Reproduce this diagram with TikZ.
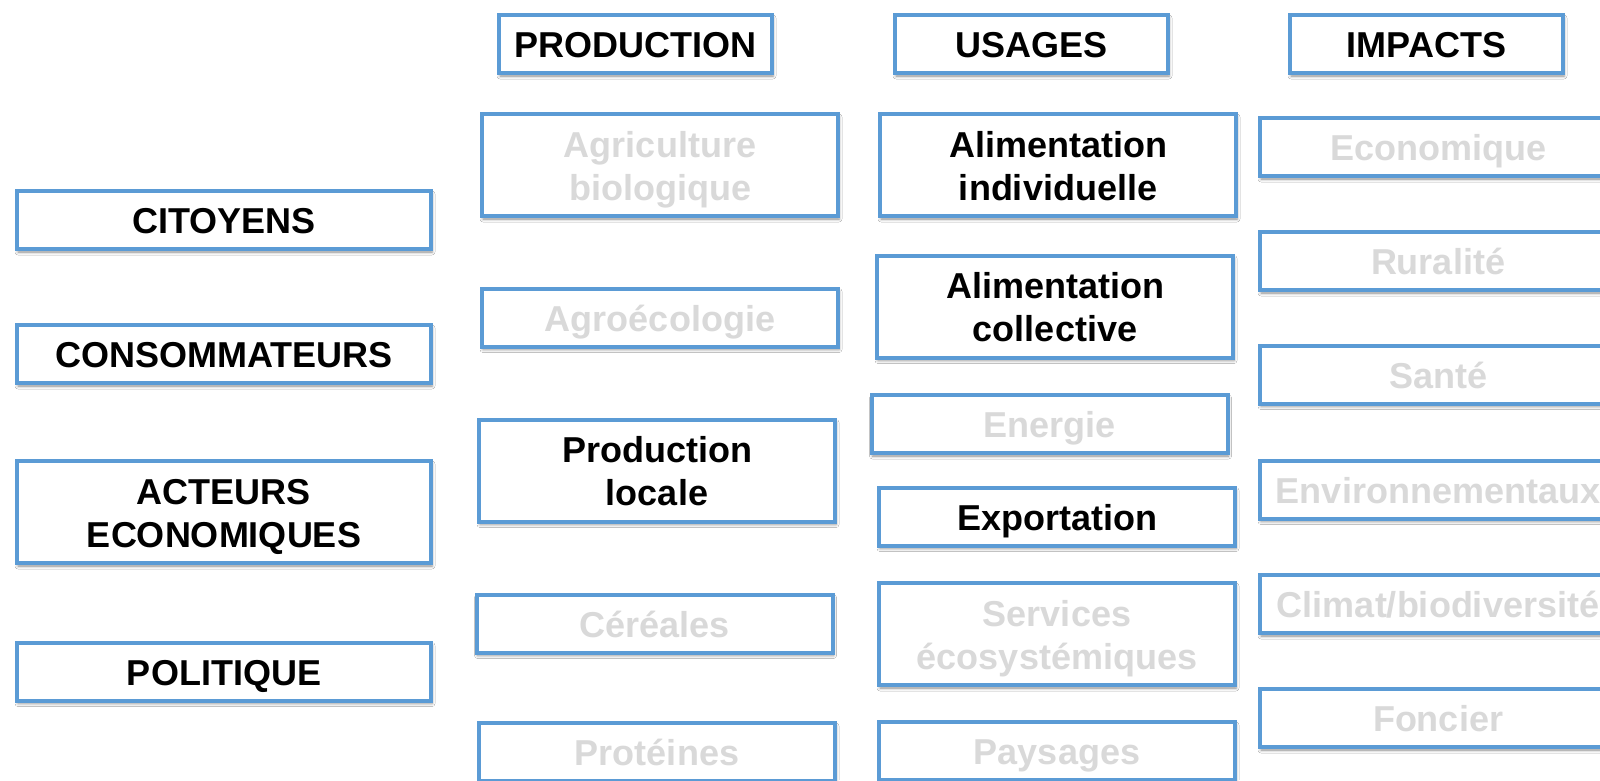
\documentclass[tikz,border=0pt]{standalone}
\usepackage{fontspec}
\setmainfont{Liberation Sans}
\usetikzlibrary{shadows.blur}
\definecolor{boxblue}{RGB}{91,155,213}
\definecolor{fadetext}{RGB}{217,217,217}
% fixed line metrics so every box centres its text the same way
\newcommand{\tstrut}{\rule{0pt}{40pt}}
\newcommand{\bstrut}{\rule[-13pt]{0pt}{13pt}}
\begin{document}
\begin{tikzpicture}[x=1pt,y=-1pt,
  card/.style={draw=boxblue, line width=4pt, fill=white, inner sep=0pt, align=center,
    font=\bfseries\fontsize{36}{43}\selectfont, text=black,
    blur shadow={shadow xshift=1pt, shadow yshift=-3pt, shadow blur radius=3pt, shadow opacity=45}},
  faded/.style={card, text=fadetext},
  one/.style={minimum height=58pt},
  two/.style={minimum height=102pt},
  headw/.style={minimum width=273pt},
  leftw/.style={minimum width=414pt},
  colw/.style={minimum width=356pt},
]
\useasboundingbox (0,0) rectangle (1600,780);
\clip (0,0) rectangle (1600,780);
\fill[white] (0,0) rectangle (1600,780);

% headers
\node[card, one, headw] (production) at (635.5,44) {\tstrut PRODUCTION\bstrut};
\node[card, one, headw] (usages) at (1031.5,44) {\tstrut USAGES\bstrut};
\node[card, one, headw] (impacts) at (1426.5,44) {\tstrut IMPACTS\bstrut};

% actors
\node[card, one, leftw] (citoyens) at (224,220) {\tstrut CITOYENS\bstrut};
\node[card, one, leftw] (consommateurs) at (224,354) {\tstrut CONSOMMATEURS\bstrut};
\node[card, two, leftw] (acteurs) at (224,512) {\tstrut ACTEURS\\ECONOMIQUES\bstrut};
\node[card, one, leftw] (politique) at (224,671.5) {\tstrut POLITIQUE\bstrut};

% production column
\node[faded, two, colw] (agribio) at (660,165) {\tstrut Agriculture\\biologique\bstrut};
\node[faded, one, colw] (agroeco) at (660,317.5) {\tstrut Agroécologie\bstrut};
\node[card, two, colw] (prodlocale) at (657,470.5) {\tstrut Production\\locale\bstrut};
\node[faded, one, colw] (cereales) at (654.5,623.5) {\tstrut Céréales\bstrut};
\node[faded, one, colw] (proteines) at (657,752) {\tstrut Protéines\bstrut};

% usages column
\node[card, two, colw] (alimind) at (1058,165) {\tstrut Alimentation\\individuelle\bstrut};
\node[card, two, colw] (alimcoll) at (1055,306.5) {\tstrut Alimentation\\collective\bstrut};
\node[faded, one, colw] (energie) at (1049.5,424) {\tstrut Energie\bstrut};
\node[card, one, colw] (exportation) at (1057,516.5) {\tstrut Exportation\bstrut};
\node[faded, two, colw] (services) at (1057,634) {\tstrut Services\\écosystémiques\bstrut};
\node[faded, one, colw] (paysages) at (1057,751) {\tstrut Paysages\bstrut};

% impacts column
\node[faded, one, colw] (economique) at (1438,147) {\tstrut Economique\bstrut};
\node[faded, one, colw] (ruralite) at (1438,261) {\tstrut Ruralité\bstrut};
\node[faded, one, colw] (sante) at (1438,374.5) {\tstrut Santé\bstrut};
\node[faded, one, colw] (environ) at (1438,489.5) {\tstrut Environnementaux\bstrut};
\node[faded, one, colw] (climat) at (1438,604) {\tstrut Climat/biodiversité\bstrut};
\node[faded, one, colw] (foncier) at (1438,718) {\tstrut Foncier\bstrut};
\end{tikzpicture}
\end{document}
